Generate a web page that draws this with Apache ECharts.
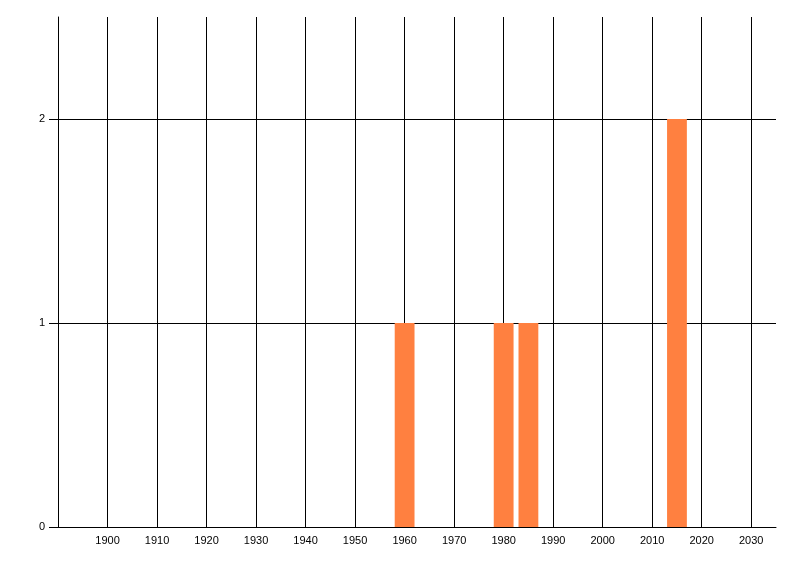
<!DOCTYPE html>
<html>
<head>
<meta charset="utf-8">
<script src="https://cdn.jsdelivr.net/npm/echarts@6/dist/echarts.min.js"></script>
<style>html,body{margin:0;padding:0;background:#fff}#c{width:800px;height:576px}</style>
</head>
<body>
<div id="c"></div>
<script>
const years = [1960, 1980, 1985, 2015];
const counts = [1, 1, 1, 2];
const xTicks = [1900, 1910, 1920, 1930, 1940, 1950, 1960, 1970, 1980, 1990, 2000, 2010, 2020, 2030];
const yTicks = [0, 1, 2];
const binWidth = 4;

const chart = echarts.init(document.getElementById('c'), null, {renderer: 'canvas'});
const font = {fontFamily: 'Liberation Sans', fontSize: 11, color: '#000'};
chart.setOption({
  animation: false,
  backgroundColor: '#fff',
  grid: {left: 58, right: 24, top: 17, bottom: 49, containLabel: false},
  xAxis: {
    type: 'value', min: 1890, max: 2035, interval: 10,
    axisLine: {show: true, lineStyle: {color: '#000', width: 1}},
    axisTick: {show: false},
    axisLabel: Object.assign({
      margin: 8,
      customValues: xTicks,
      formatter: v => String(v)
    }, font),
    splitLine: {show: true, showMinLine: false, showMaxLine: false, lineStyle: {color: '#000', width: 1}}
  },
  yAxis: {
    type: 'value', min: 0, max: 2.5, interval: 1,
    axisLine: {show: true, lineStyle: {color: '#000', width: 1}},
    axisTick: {show: true, length: 9, customValues: yTicks, lineStyle: {color: '#000'}},
    axisLabel: Object.assign({margin: 13, customValues: yTicks}, font),
    splitLine: {show: true, showMinLine: false, showMaxLine: true, lineStyle: {color: '#000', width: 1}}
  },
  series: [{
    type: 'custom',
    data: years.map((y, i) => [y, counts[i]]),
    encode: {x: 0, y: 1},
    renderItem: function (params, api) {
      const x = api.value(0), v = api.value(1);
      const p0 = api.coord([x - binWidth / 2, v]);
      const p1 = api.coord([x + binWidth / 2, 0]);
      return {
        type: 'rect',
        shape: {x: p0[0], y: p0[1], width: p1[0] - p0[0], height: p1[1] - p0[1]},
        style: {fill: '#FF8040'}
      };
    },
    z: 3
  }]
});
</script>
</body>
</html>
